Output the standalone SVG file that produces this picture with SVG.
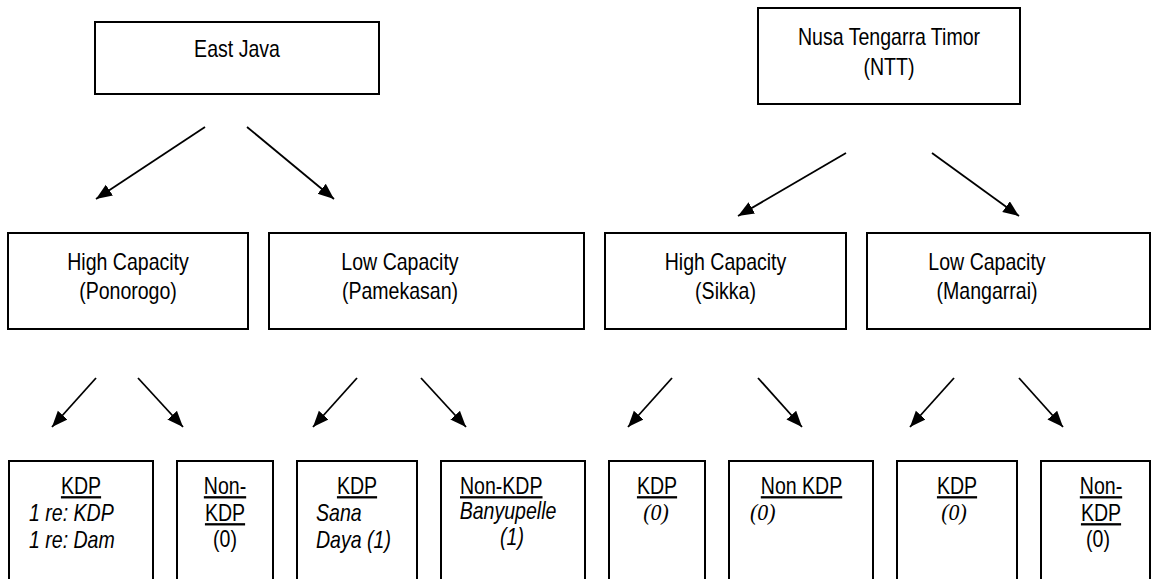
<svg xmlns="http://www.w3.org/2000/svg" width="1152" height="579" viewBox="0 0 1152 579">
<style>
.box{fill:#fff;stroke:#000;stroke-width:2}
.t{font-family:"Liberation Sans",Arial,sans-serif;font-size:23px;fill:#000}
.m{text-anchor:middle}
.i{font-style:italic}
.u{text-decoration:underline}
.s{font-family:"Liberation Serif","Times New Roman",serif;font-style:italic;font-size:23px;fill:#000}
.c{stroke:#000;stroke-width:1.8;fill:none;marker-end:url(#ah)}
</style>
<defs>
<marker id="ah" markerUnits="userSpaceOnUse" markerWidth="18" markerHeight="14" refX="16" refY="6.5" orient="auto">
<path d="M0,0 L16,6.5 L0,13 z" fill="#000"/>
</marker>
</defs>
<rect width="1152" height="579" fill="#fff"/>
<g id="connectors">
<line class="c" x1="205" y1="127" x2="96" y2="199"/>
<line class="c" x1="247" y1="127" x2="334" y2="199"/>
<line class="c" x1="846" y1="153" x2="738" y2="216"/>
<line class="c" x1="932" y1="153" x2="1019" y2="216"/>
<line class="c" x1="96" y1="378" x2="52" y2="427"/>
<line class="c" x1="138" y1="378" x2="183" y2="427"/>
<line class="c" x1="357" y1="378" x2="313" y2="427"/>
<line class="c" x1="421" y1="378" x2="466" y2="427"/>
<line class="c" x1="672" y1="378" x2="628" y2="427"/>
<line class="c" x1="758" y1="378" x2="802" y2="427"/>
<line class="c" x1="954" y1="378" x2="910" y2="427"/>
<line class="c" x1="1019" y1="378" x2="1063" y2="427"/>
</g>
<g id="east-java">
<rect class="box" x="95" y="22" width="284" height="72"/>
<text class="t m" transform="translate(237,57) scale(0.85,1)">East Java</text>
</g>
<g id="ntt">
<rect class="box" x="758" y="8" width="262" height="96"/>
<text class="t m" transform="translate(889,44.5) scale(0.85,1)">Nusa Tengarra Timor</text>
<text class="t m" transform="translate(889,75) scale(0.85,1)">(NTT)</text>
</g>
<g id="high-ponorogo">
<rect class="box" x="8" y="233" width="240" height="96"/>
<text class="t m" transform="translate(128,270) scale(0.85,1)">High Capacity</text>
<text class="t m" transform="translate(128,299) scale(0.85,1)">(Ponorogo)</text>
</g>
<g id="low-pamekasan">
<rect class="box" x="269" y="233" width="315" height="96"/>
<text class="t m" transform="translate(400,270) scale(0.85,1)">Low Capacity</text>
<text class="t m" transform="translate(400,299) scale(0.85,1)">(Pamekasan)</text>
</g>
<g id="high-sikka">
<rect class="box" x="605" y="233" width="241" height="96"/>
<text class="t m" transform="translate(725.5,270) scale(0.85,1)">High Capacity</text>
<text class="t m" transform="translate(725.5,299) scale(0.85,1)">(Sikka)</text>
</g>
<g id="low-mangarrai">
<rect class="box" x="867" y="233" width="283" height="96"/>
<text class="t m" transform="translate(987,270) scale(0.85,1)">Low Capacity</text>
<text class="t m" transform="translate(987,299) scale(0.85,1)">(Mangarrai)</text>
</g>
<g id="ponorogo-kdp">
<rect class="box" x="9" y="461" width="144" height="140"/>
<text class="t m u" transform="translate(81,494) scale(0.85,1)">KDP</text>
<text class="t i" transform="translate(29,521) scale(0.85,1)">1 re: KDP</text>
<text class="t i" transform="translate(29,548) scale(0.85,1)">1 re: Dam</text>
</g>
<g id="ponorogo-nonkdp">
<rect class="box" x="177" y="461" width="96" height="140"/>
<text class="t m u" transform="translate(225,494) scale(0.85,1)">Non-</text>
<text class="t m u" transform="translate(225,521) scale(0.85,1)">KDP</text>
<text class="t m" transform="translate(225,547) scale(0.85,1)">(0)</text>
</g>
<g id="pamekasan-kdp">
<rect class="box" x="297" y="461" width="120" height="140"/>
<text class="t m u" transform="translate(357,494) scale(0.85,1)">KDP</text>
<text class="t i" transform="translate(316,521) scale(0.85,1)">Sana</text>
<text class="t i" transform="translate(316,548) scale(0.85,1)">Daya (1)</text>
</g>
<g id="pamekasan-nonkdp">
<rect class="box" x="441" y="461" width="144" height="140"/>
<text class="t u" transform="translate(460,494) scale(0.85,1)">Non-KDP</text>
<text class="t m i" transform="translate(508,519) scale(0.85,1)">Banyupelle</text>
<text class="t m i" transform="translate(512,545) scale(0.85,1)">(1)</text>
</g>
<g id="sikka-kdp">
<rect class="box" x="609" y="461" width="96" height="140"/>
<text class="t m u" transform="translate(657,494) scale(0.85,1)">KDP</text>
<text class="s m" transform="translate(656,520) scale(0.95,1)">(0)</text>
</g>
<g id="sikka-nonkdp">
<rect class="box" x="729" y="461" width="144" height="140"/>
<text class="t m u" transform="translate(801.5,494) scale(0.85,1)">Non KDP</text>
<text class="s" transform="translate(750,520) scale(0.95,1)">(0)</text>
</g>
<g id="mangarrai-kdp">
<rect class="box" x="897" y="461" width="120" height="140"/>
<text class="t m u" transform="translate(957,494) scale(0.85,1)">KDP</text>
<text class="s m" transform="translate(954,520) scale(0.95,1)">(0)</text>
</g>
<g id="mangarrai-nonkdp">
<rect class="box" x="1041" y="461" width="109" height="140"/>
<text class="t m u" transform="translate(1101,494) scale(0.85,1)">Non-</text>
<text class="t m u" transform="translate(1101,521) scale(0.85,1)">KDP</text>
<text class="t m" transform="translate(1098,547) scale(0.85,1)">(0)</text>
</g>
</svg>
